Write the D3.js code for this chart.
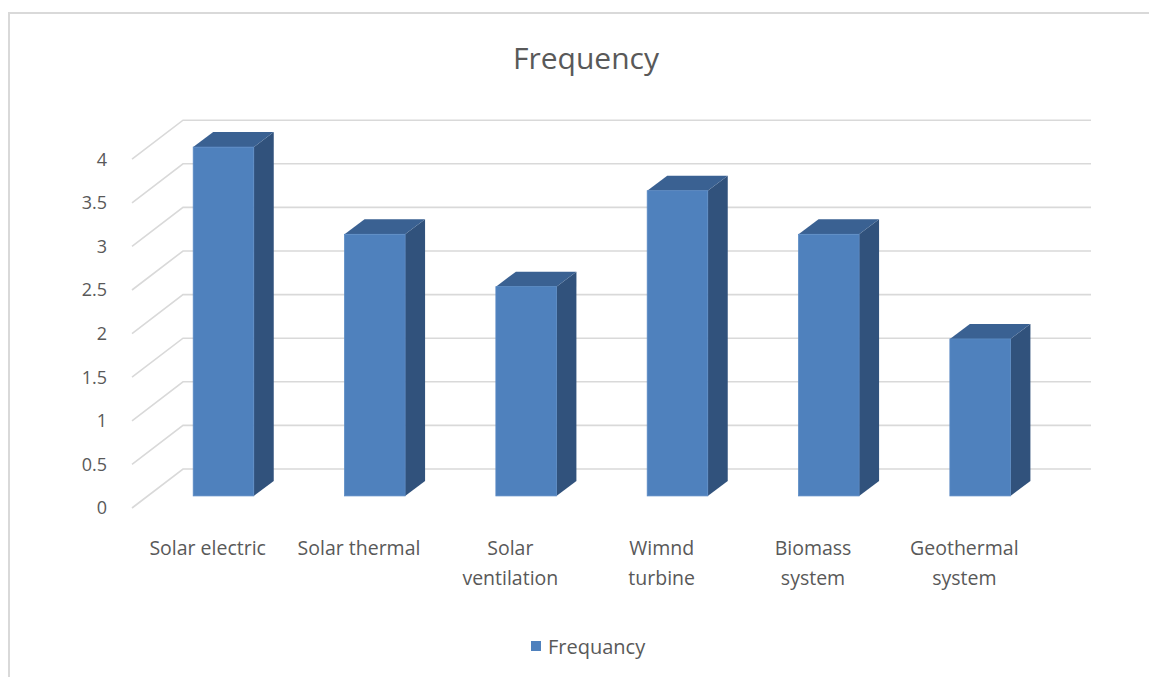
<!DOCTYPE html>
<html>
<head>
<meta charset="utf-8">
<script src="https://cdn.jsdelivr.net/npm/d3@7"></script>
<style>
  html, body { margin: 0; padding: 0; background: #fff; }
  svg { display: block; font-family: "Open Sans", "Lato", sans-serif; }
</style>
</head>
<body>
<svg id="chart" width="1149" height="677"></svg>
<script>
// Chart data
const categories = [
  ["Solar electric"],
  ["Solar thermal"],
  ["Solar", "ventilation"],
  ["Wimnd", "turbine"],
  ["Biomass", "system"],
  ["Geothermal", "system"]
];
const values = [4, 3, 2.4, 3.5, 3, 1.8];
const yTicks = [0, 0.5, 1, 1.5, 2, 2.5, 3, 3.5, 4];
const title = "Frequency";
const seriesName = "Frequancy";

const svg = d3.select("#chart");
const W = 1149, H = 677;

// Frame of the chart area
svg.append("path")
  .attr("d", `M9,${H} L9,13 L${W},13`)
  .attr("fill", "none")
  .attr("stroke", "#d9d9d9")
  .attr("stroke-width", 2);

// 3D geometry: front floor edge, wall depth and bar depth
const frontX = 132, frontZero = 508;
const plotW = 908;
const wallDX = 51, wallDY = -39;
const barPlane = 0.31;            // fraction of depth where bar fronts sit
const barDX = 20, barDY = -15;    // bar thickness in depth

const y = d3.scaleLinear().domain([0, 4]).range([frontZero, frontZero - 4 * 87.2]);
const x = d3.scaleBand()
  .domain(d3.range(categories.length))
  .range([0, plotW])
  .paddingInner(0.6)
  .paddingOuter(0.3);
const xLab = d3.scaleBand().domain(d3.range(categories.length)).range([frontX, frontX + plotW]);

const grid = svg.append("g").attr("stroke", "#d9d9d9").attr("stroke-width", 1.6).attr("fill", "none");
yTicks.forEach(v => {
  const yf = y(v);
  grid.append("path")
    .attr("d", `M${frontX},${yf} L${frontX + wallDX},${yf + wallDY} L${frontX + wallDX + plotW},${yf + wallDY}`);
});

// Y axis labels
svg.append("g").selectAll("text").data(yTicks).join("text")
  .attr("x", 107)
  .attr("y", d => y(d))
  .attr("dy", "0.35em")
  .attr("text-anchor", "end")
  .attr("fill", "#595959")
  .attr("font-size", 18)
  .text(d => d);

// Bars
const bx0 = frontX + barPlane * wallDX;
const by0 = barPlane * wallDY;
const bars = svg.append("g").selectAll("g").data(values).join("g");
bars.each(function(v, i) {
  const g = d3.select(this);
  const xl = bx0 + x(i), xr = xl + x.bandwidth();
  const yb = y(0) + by0, yt = y(v) + by0;
  // side face
  g.append("path")
    .attr("d", `M${xr},${yt} L${xr + barDX},${yt + barDY} L${xr + barDX},${yb + barDY} L${xr},${yb} Z`)
    .attr("fill", "#31527c");
  // top face
  g.append("path")
    .attr("d", `M${xl},${yt} L${xl + barDX},${yt + barDY} L${xr + barDX},${yt + barDY} L${xr},${yt} Z`)
    .attr("fill", "#3a6192");
  // front face
  g.append("rect")
    .attr("x", xl).attr("y", yt)
    .attr("width", x.bandwidth()).attr("height", yb - yt)
    .attr("fill", "#4f81bd")
    .attr("stroke", "#5a8ac4").attr("stroke-width", 0.8);
});

// Category labels
svg.append("g").selectAll("text").data(categories).join("text")
  .attr("x", (d, i) => xLab(i) + xLab.bandwidth() / 2)
  .attr("y", 555)
  .attr("text-anchor", "middle")
  .attr("fill", "#595959")
  .attr("font-size", 19.5)
  .each(function(lines) {
    const t = d3.select(this);
    lines.forEach((s, k) => {
      t.append("tspan")
        .attr("x", t.attr("x"))
        .attr("dy", k === 0 ? 0 : 30)
        .text(s);
    });
  });

// Title
svg.append("text")
  .attr("x", 586).attr("y", 69)
  .attr("text-anchor", "middle")
  .attr("fill", "#595959")
  .attr("font-size", 30)
  .text(title);

// Legend
const lg = svg.append("g");
lg.append("rect").attr("x", 531).attr("y", 641).attr("width", 10).attr("height", 10).attr("fill", "#4f81bd");
lg.append("text").attr("x", 548).attr("y", 654)
  .attr("fill", "#595959").attr("font-size", 20).text(seriesName);
</script>
</body>
</html>
